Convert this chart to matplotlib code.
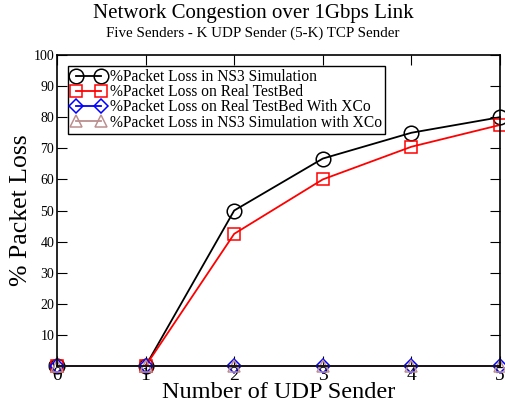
import matplotlib.pyplot as plt

senders = [0, 1, 2, 3, 4, 5]
ns3_loss = [0, 0, 50, 66.7, 75, 80]
testbed_loss = [0, 0, 42.5, 60, 70.5, 77.5]
testbed_xco_loss = [0, 0, 0, 0, 0, 0]
ns3_xco_loss = [0, 0, 0, 0, 0, 0]
labels = ['%Packet Loss in NS3 Simulation',
          '%Packet Loss on Real TestBed',
          '%Packet Loss on Real TestBed With XCo',
          '%Packet Loss in NS3 Simulation with XCo']

plt.rcParams['font.family'] = ['Liberation Serif', 'DejaVu Serif']

fig = plt.figure(figsize=(5.06, 4.11), dpi=100)
ax = fig.add_axes([57 / 506, 1 - 366 / 411, 443 / 506, 311 / 411])

ax.plot(senders, ns3_loss, color='black', lw=1.3, marker='o', ms=10.5,
        mfc='none', mew=1.1, label=labels[0], clip_on=False)
ax.plot(senders, testbed_loss, color='red', lw=1.3, marker='s', ms=8.5,
        mfc='none', mew=1.1, label=labels[1], clip_on=False)
ax.plot(senders, testbed_xco_loss, color='blue', lw=1.3, marker='D', ms=7,
        mfc='none', mew=1.1, label=labels[2], clip_on=False)
ax.plot(senders, ns3_xco_loss, color='#bc8f8f', lw=1.3, marker='^', ms=9,
        mfc='none', mew=1.1, label=labels[3], clip_on=False)

ax.set_xlim(0, 5)
ax.set_ylim(0, 100)
ax.set_xticks(senders)
ax.set_yticks(range(0, 101, 10))
ax.tick_params(axis='x', labelsize=14, direction='in', length=7, top=True, pad=1)
ax.tick_params(axis='y', labelsize=10, direction='in', length=7, right=True, pad=2)
for s in ax.spines.values():
    s.set_linewidth(1.2)

ax.set_xlabel('Number of UDP Sender', fontsize=17.5, labelpad=-2)
ax.set_ylabel('% Packet Loss', fontsize=18.5, labelpad=1)
fig.text(0.5, 0.955, 'Network Congestion over 1Gbps Link', ha='center', fontsize=15)
fig.text(0.5, 0.91, 'Five Senders - K UDP Sender (5-K) TCP Sender', ha='center', fontsize=10.8)

leg = ax.legend(loc='upper left', bbox_to_anchor=(0.025, 0.965), fontsize=11.2,
                numpoints=2, handlelength=2.2, handletextpad=0.3, labelspacing=-0.05,
                borderpad=0.2, borderaxespad=0, fancybox=False, framealpha=1,
                edgecolor='black')
leg.get_frame().set_linewidth(1.0)

fig.savefig('out.png', dpi=100)
